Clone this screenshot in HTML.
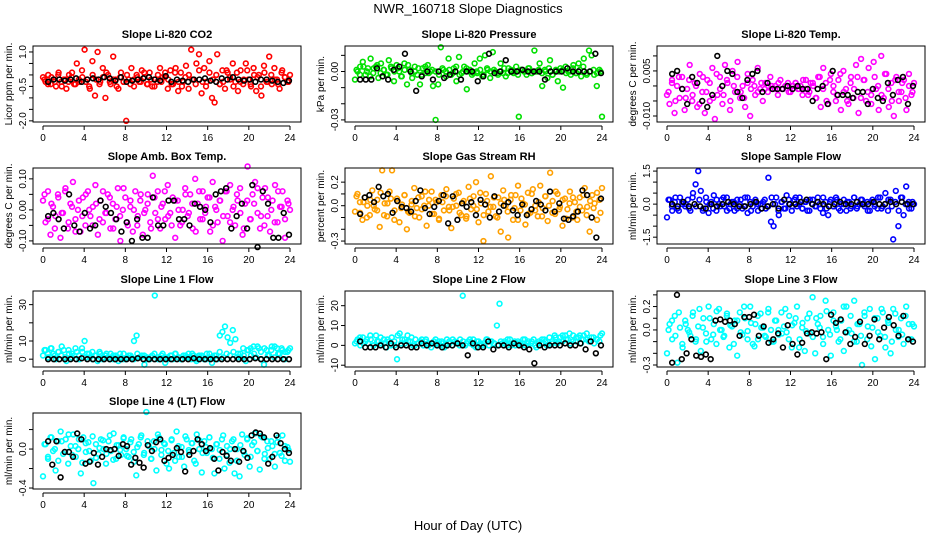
<!DOCTYPE html>
<html><head><meta charset="utf-8"><style>
html,body{margin:0;padding:0;background:#fff;}
svg{display:block;font-family:"Liberation Sans",sans-serif;}
</style></head><body>
<svg id="chart" width="936" height="540" viewBox="0 0 936 540" xmlns="http://www.w3.org/2000/svg">
<rect width="936" height="540" fill="#fff"/>
<text x="468" y="13" text-anchor="middle" font-size="13">NWR_160718  Slope Diagnostics</text>
<text x="468" y="530" text-anchor="middle" font-size="13">Hour of Day (UTC)</text>
<g id="panels"></g>
</svg>
<script>
const xTicks = [0,4,8,12,16,20,24];
const co2 = [-0.1,-0.3,0.0,-0.4,-0.2,-0.5,0.1,-0.3,-0.2,-0.6,0.0,-0.1,-0.4,0.5,-0.3,0.2,1.1,-0.2,-0.6,0.6,-0.9,1.0,-0.3,0.3,-1.0,0.0,-0.4,0.8,-0.2,-0.6,0.1,-0.3,-2.0,-0.2,0.3,-0.5,0.0,-0.3,0.2,-0.1,-0.4,0.1,-0.5,-0.2,-0.3,0.3,-0.1,0.1,-0.6,0.2,-0.4,0.3,-0.7,0.1,-0.3,0.4,-0.6,1.1,-0.2,0.5,0.9,-0.8,0.3,-0.3,0.6,-1.0,-1.2,0.9,-0.4,0.2,-0.6,0.1,-0.2,0.5,-0.3,-0.7,0.2,-0.4,0.5,-0.2,-0.5,0.3,-0.7,0.0,-0.9,0.4,-0.3,0.8,-0.4,0.3,-0.2,-0.6,0.2,-0.1,-0.3,0.0];
const co2Core = [-0.2,-0.4,-0.1,-0.3,0.0,-0.5,-0.2,-0.3,0.1,-0.4,-0.2,-0.1,-0.3,-0.5,0.0,-0.2,-0.4,-0.1,0.1,-0.3,-0.2,-0.5,-0.1,-0.3,0.0,-0.4,-0.2,-0.1,-0.3,0.1,-0.4,-0.2,-0.5,0.0,-0.3,-0.1,-0.2,-0.4,0.1,-0.3,-0.5,-0.1,0.0,-0.2,-0.4,0.2,-0.3,-0.5,0.1,-0.2,0.0,-0.4,-0.3,0.2,-0.1,-0.5,0.1,-0.3,-0.2,0.2,-0.4,0.0,-0.1,-0.5,0.1,-0.3,0.0,-0.2,-0.4,0.1,-0.1,-0.3];
const co2Mean = [-0.3,-0.2,-0.2,-0.25,-0.2,-0.15,-0.3,-0.2,-0.15,-0.2,-0.1,-0.15,-0.25,-0.1,-0.3,-0.25,-0.2,-0.15,-0.1,-0.2,-0.25,-0.05,-0.3,-0.2,-0.25,-0.3,-0.2,-0.2,-0.15,-0.25,-0.3,-0.15,-0.2,-0.1,-0.2,-0.25,-0.2,-0.3,-0.2,-0.2,-0.25,-0.3,-0.35,-0.25];
const pres = [-5,0,3,6,-2,2,8,-1,3,-4,5,1,-2,7,2,-6,4,0,-3,5,-8,1,-4,3,-2,-8,2,-1,4,0,-9,-30,-8,15,1,-3,8,-2,2,-6,9,-1,3,-11,0,-2,5,-1,8,-3,10,1,-4,12,0,-2,5,-1,-3,2,0,-1,3,-28,1,0,-2,2,-1,13,0,5,-9,1,-4,7,-2,0,-6,2,-10,3,0,-2,4,-1,5,-3,8,-1,13,10,-2,-9,1,-28];
const presCore = [1,-2,3,0,-3,2,4,-1,1,-2,3,0,2,-3,1,4,-1,0,2,-2,3,-1,1,0,-2,2,0,1,-1,3,-2,0,2,1,-1,0,1,-2,2,0,1,-1,0,2,-1,1,0,-2,1,0,2,-1,0,1,-1,0,2,-2,1,0,1,-1,0,2,-1,1,3,-2,0,1,-1,0];
const presMean = [-5,-5,-5,2,-3,-5,1,3,11,0,-12,-3,0,-5,0,-4,-2,0,-5,0,0,-6,-3,11,-1,0,7,0,0,1,0,0,0,-5,0,0,0,2,0,0,0,0,11,-1];
const temp = [-3,-6,2,-9,0,-4,3,-8,-1,7,-5,1,-7,4,-2,-9,2,-5,6,-11,-3,3,-6,7,1,-8,5,-2,8,-4,0,-7,4,-10,2,-3,6,-1,-5,1,-2,3,-1,0,-3,2,-1,0,1,-2,0,1,-1,0,2,-1,-3,1,0,-4,3,-7,6,1,-6,4,-2,-5,2,-8,5,-1,-6,3,-4,7,-9,9,2,-5,6,-3,8,-1,-8,10,-4,4,-7,1,-10,3,-5,-2,2,-8,4,-3,1];
const tempCore = [-2,1,-5,3,-1,-4,2,-3,0,-6,3,-2,1,-4,4,-1,-3,2,-5,0,3,-2,-4,1,-1,0,-2,1,-1,0,0,-1,1,-1,0,-2,0,1,-1,-3,2,-2,1,-4,3,-1,-5,2,0,-3,4,-2,-5,1,-1,3,-4,2,-2,-6,3,0,-3,4,-1,-5,2,-2,1,-4,0,-2];
const tempMean = [4,5,-1,-6,3,1,-5,-7,-3,10,0,5,4,-2,-4,2,4,5,-2,1,-1,-1,-1,0,-1,0,-1,-1,-5,-1,0,-6,5,-3,-3,-3,-4,-2,-2,-6,-1,-4,-5,1,-3,2,3,-6,0];
const amb = [3,-4,6,-8,1,-2,5,-9,-1,7,-6,2,9,-3,0,-7,4,-5,6,-2,1,8,-8,3,-4,-1,5,-6,2,-3,7,-10,0,4,-5,1,-7,6,-2,3,-8,0,5,-4,11,-1,6,-6,2,-3,8,-1,4,-9,3,-5,0,7,-2,5,-6,10,2,-3,6,-1,4,-7,9,1,-4,3,-10,6,-2,8,0,-5,3,7,-8,2,14,-3,5,9,-1,-6,4,7,-2,-7,3,8,-4,1,6,-9,3,0];
const ambCore = [5,-3,2,-6,4,-1,6,-4,1,-7,3,-2,5,0,-5,2,-3,6,-1,4,-6,1,-2,7,-4,3,0,-5,5,-1,2,-6,4,-3,1,6,-2,-5,3,0,-4,5,-1,2,-7,6,-3,1,4,-5,0,3,-2,6,-4,1,5,-1,-6,3,-3,2,7,-2,-5,4,0,-4,6,1,-3,2];
const ambMean = [-2,-1,-3,-6,5,-5,-7,-1,-6,-5,3,1,-1,-3,-7,-4,-10,-3,-9,-9,4,-5,-5,3,3,-3,-3,-5,2,1,0,-4,5,6,7,-6,-2,2,-6,8,-12,6,2,-9,-9,-1,-8];
const rh = [-5,10,3,-12,7,0,-8,13,-3,5,-18,30,2,-9,12,30,-4,6,-14,1,9,-20,-6,4,15,-2,-10,8,0,-17,5,12,-7,3,-12,9,-4,14,-1,-19,6,0,11,-8,4,-11,16,-3,8,20,-14,2,-30,10,-5,25,-1,-9,7,-22,13,0,-27,5,-12,9,17,-4,2,-16,11,-6,14,0,-9,17,-2,8,-13,28,4,-7,10,-1,-17,6,-3,12,-10,3,-12,7,-4,15,-1,-22,9,2,-12,5,15];
const rhCore = [8,-6,3,-10,5,0,-4,11,-8,2,6,-12,4,-2,9,-5,1,-9,7,-3,12,0,-7,5,-11,3,8,-4,-1,10,-6,2,-9,6,0,-3,11,-8,4,-1,7,-10,2,5,-5,9,-2,-12,6,1,-7,10,-4,3,-9,8,0,-6,12,-3,5,-11,2,7,-5,-1,9,-8,4,-2,11,-6];
const rhMean = [-7,7,9,3,16,8,10,-6,4,-1,-2,-5,4,13,-2,-7,-1,4,9,-15,8,-12,2,-1,3,-8,5,1,-10,8,-5,0,3,-4,-8,1,-8,-3,4,1,-4,12,-5,2,-11,-12,-9,-5,13,9,-10,-27,6];
const samp = [-0.6,0.2,-0.3,0.1,-0.2,0.3,0.0,-0.1,0.2,-0.3,0.5,0.9,1.5,0.6,-0.2,0.3,-0.4,0.1,0.4,-0.3,0.0,0.2,-0.1,0.3,-0.2,0.1,-0.3,0.2,0.0,-0.2,0.3,-0.4,0.1,-0.1,0.2,-0.3,0.0,0.1,-0.2,1.2,-0.8,-1.0,0.3,-0.5,0.1,-0.2,0.4,0.0,-0.3,0.2,-0.1,0.3,-0.2,0.1,-0.3,0.2,0.0,-0.1,0.3,-0.2,-0.4,0.1,-0.5,0.2,-0.1,0.3,-0.2,0.0,0.2,-0.3,0.1,-0.1,0.3,-0.2,0.0,0.2,-0.1,0.1,-0.3,0.2,0.0,-0.2,0.3,-0.1,0.5,-0.3,0.2,-1.6,0.6,-1.0,0.3,-0.5,0.8,0.1,-0.2,0.0];
const sampCore = [0.2,-0.1,0.3,-0.3,0.1,0.0,-0.2,0.3,-0.1,0.2,-0.3,0.1,0.0,-0.2,0.2,-0.1,0.3,-0.3,0.0,0.1,-0.2,0.2,-0.1,0.3,-0.3,0.1,0.0,-0.2,0.2,-0.1,0.3,0.0,-0.3,0.1,-0.2,0.2,-0.1,0.3,0.0,-0.2,0.1,-0.3,0.2,-0.1,0.0,0.3,-0.2,0.1,-0.1,0.2,-0.3,0.0,0.1,-0.2,0.3,-0.1,0.2,0.0,-0.3,0.1,-0.1,0.3,-0.2,0.0,0.2,-0.1,0.1,-0.3,0.3,0.0,-0.2,0.1];
const sampMean = [0.0,-0.1,0.1,-0.1,0.0,-0.1,-0.2,0.0,-0.1,0.0,0.1,0.0,-0.1,-0.1,0.0,0.1,-0.2,-0.1,0.0,-0.2,0.2,0.0,0.0,0.1,0.2,0.0,0.1,0.0,-0.1,0.0,0.1,0.0,0.0,0.1,0.0,0.0,0.1,0.0,0.0,0.1,0.0,0.1,0.0,0.0];
const line1 = [2,5,1,6,3,0,4,2,5,-1,3,1,2,4,0,6,10,3,1,4,2,-1,3,0,2,1,3,0,2,-1,1,3,0,2,1,10,13,1,2,-3,1,0,2,35,1,0,3,-2,1,2,0,3,1,0,2,1,3,0,2,-1,1,2,0,3,1,-2,2,0,13,15,18,12,9,16,11,3,1,6,-1,5,2,7,1,6,0,-3,5,2,7,1,6,3,5,0,4,6];
const line1Core = [5,3,6,2,4,7,1,5,3,6,2,4,1,3,0,2,4,1,3,0,2,1,3,0,1,2,0,3,1,2,0,1,3,0,2,1,0,2,3,1,0,2,1,3,0,2,1,0,3,1,2,4,1,3,2,4,1,3,2,5,6,3,7,4,6,2,5,7,3,6,4,5];
const line1Mean = [0,0,0,0,0,0,0.5,0,0,0,0,0,0,0,0,0,0.5,0,0,0,0,0,0,0,0,0,0.5,0,0,0,0,0,0,0,0,0,0,0.5,0,0,0,0,0,0];
const line2 = [1,3,0,4,2,1,3,0,5,2,1,3,-1,2,4,0,-7,6,3,1,5,2,0,3,1,2,0,3,1,-1,2,1,0,2,-1,3,1,0,2,1,3,25,0,2,1,3,-1,2,0,1,3,0,2,1,10,21,1,2,0,3,1,0,2,1,3,0,2,1,3,-1,2,1,3,0,4,2,5,1,4,2,5,3,1,5,2,4,1,5,3,2,4,1,3,2,6];
const line2Core = [2,4,1,3,5,0,2,4,1,3,0,2,5,1,3,2,4,0,1,3,2,0,1,3,2,1,0,2,3,1,0,2,1,3,0,2,1,0,3,2,1,0,2,1,3,0,2,1,0,3,1,2,0,1,3,2,0,1,4,2,5,3,6,2,4,5,3,6,2,4,3,5];
const line2Mean = [2,-1,-1,-1,0,-1,1,-1,0,0,-1,-1,1,0,1,0,-1,0,0,1,0,-5,1,-1,-1,2,-2,0,0,-1,1,0,-1,-2,-9,0,-1,0,0,0,1,0,0,1,-2,2,-4,0];
const line3 = [-20,5,-8,12,-28,2,-15,8,0,-5,15,-10,3,-18,10,-3,20,-8,5,-12,18,0,-5,12,-15,3,8,-22,15,-4,10,-1,20,-12,5,-8,14,2,-6,18,0,-10,8,-4,15,3,-2,12,-15,6,20,-8,2,-18,10,-3,28,-20,5,12,-6,25,0,-22,15,3,-10,8,-18,20,0,-3,25,-10,5,-30,12,-8,18,2,-25,10,-5,15,-15,8,-20,18,0,-6,10,-12,20,5,-8,3];
const line3Core = [0,8,-5,15,-12,5,-2,12,-8,18,2,-10,10,-4,16,0,-6,14,4,-12,8,-2,20,-8,6,-14,12,2,-5,15,-10,8,0,-3,18,-8,4,10,-15,6,-1,14,-6,10,2,-12,16,-4,8,0,-8,20,-2,12,-10,5,-5,15,3,-14,10,-2,18,-6,6,-10,14,0,-4,12,-8,5];
const line3Mean = [-28,30,-25,-20,-8,-22,-23,-21,-25,8,9,7,8,5,-5,11,11,13,-5,3,-11,-8,-3,-15,4,-12,-21,-11,-3,-2,-3,-2,-25,13,6,9,-2,-12,-6,7,-12,-5,9,-8,2,11,4,-5,12,-8,-10];
const line4 = [-28,5,-10,12,-2,-22,8,18,-5,10,-15,3,15,-8,0,-25,12,-3,7,-12,-35,5,-5,10,0,-15,8,-2,16,-10,4,-6,12,0,-8,10,-3,-27,5,14,-6,38,3,-10,8,-22,12,-1,6,-15,-20,9,-4,18,-8,2,-18,10,-3,6,-12,15,0,-24,8,-4,12,0,-25,5,-10,10,-20,3,-14,8,-25,0,-28,15,-6,10,-18,4,16,-2,-21,12,-5,8,-10,3,-18,7,-4,14,-12,2,-13];
const line4Core = [5,-8,12,0,-12,8,-3,15,-6,3,10,-14,6,-2,13,-9,1,9,-5,14,-11,4,-1,11,-7,7,-13,2,12,-4,8,-10,0,15,-6,5,-2,10,-12,3,-8,13,-1,6,-15,9,-4,2,12,-9,5,-1,14,-6,0,10,-12,4,-3,11,-8,7,-2,13,-10,1,8,-5,12,-7,3,-1];
const line4Mean = [8,-16,8,-29,-3,-3,-8,16,10,-15,-13,-4,-16,-8,0,-1,0,-7,5,3,-16,-9,-14,-19,4,-2,7,10,-12,-9,-6,1,-3,-23,-6,-2,10,5,-2,1,-10,-22,-3,-7,-12,0,-13,-2,-9,14,17,16,12,-15,-8,14,6,0,-4];

const panels = [
 {name:'co2',title:'Slope Li-820 CO2',ylab:'Licor ppm per min.',col:0,row:0,min:-2.05,max:1.26,ticks:[1,0.5,0,-0.5,-1,-1.5,-2],labels:{'1':'1.0','-0.5':'-0.5','-2':'-2.0'},color:'#ff0000',data:co2,core:co2Core,mean:co2Mean},
 {name:'pressure',title:'Slope Li-820 Pressure',ylab:'kPa per min.',col:1,row:0,min:-31.3,max:15.8,ticks:[10,0,-10,-20,-30],labels:{'0':'0.00','-30':'-0.03'},color:'#00e000',data:pres,core:presCore,mean:presMean},
 {name:'temp',title:'Slope Li-820 Temp.',ylab:'degrees C per min.',col:2,row:0,min:-12,max:13.3,ticks:[10,5,0,-5,-10],labels:{'5':'0.005','-10':'-0.010'},color:'#ff00ff',data:temp,core:tempCore,mean:tempMean},
 {name:'amb-box-temp',title:'Slope Amb. Box Temp.',ylab:'degrees C per min.',col:0,row:1,min:-11,max:13.5,ticks:[10,5,0,-5,-10],labels:{'10':'0.10','0':'0.00','-10':'-0.10'},color:'#ff00ff',data:amb,core:ambCore,mean:ambMean},
 {name:'gas-rh',title:'Slope Gas Stream RH',ylab:'percent per min.',col:1,row:1,min:-32.5,max:32,ticks:[20,10,0,-10,-20,-30],labels:{'20':'0.2','0':'0.0','-30':'-0.3'},color:'#ffa000',data:rh,core:rhCore,mean:rhMean},
 {name:'sample-flow',title:'Slope Sample Flow',ylab:'ml/min per min.',col:2,row:1,min:-1.81,max:1.64,ticks:[1.5,1,0.5,0,-0.5,-1,-1.5],labels:{'1.5':'1.5','0':'0.0','-1.5':'-1.5'},color:'#0000ff',data:samp,core:sampCore,mean:sampMean},
 {name:'line1-flow',title:'Slope Line 1 Flow',ylab:'ml/min per min.',col:0,row:2,min:-4.3,max:37.5,ticks:[30,20,10,0],labels:{'30':'30','10':'10','0':'0'},color:'#00ffff',data:line1,core:line1Core,mean:line1Mean},
 {name:'line2-flow',title:'Slope Line 2 Flow',ylab:'ml/min per min.',col:1,row:2,min:-10.9,max:27.4,ticks:[20,10,0,-10],labels:{'20':'20','10':'10','0':'0','-10':'-10'},color:'#00ffff',data:line2,core:line2Core,mean:line2Mean},
 {name:'line3-flow',title:'Slope Line 3 Flow',ylab:'ml/min per min.',col:2,row:2,min:-31.7,max:33.3,ticks:[30,20,10,0,-10,-20,-30],labels:{'20':'0.2','0':'0.0','-30':'-0.3'},color:'#00ffff',data:line3,core:line3Core,mean:line3Mean},
 {name:'line4-flow',title:'Slope Line 4 (LT) Flow',ylab:'ml/min per min.',col:0,row:3,min:-41,max:37,ticks:[20,0,-20,-40],labels:{'0':'0.0','-40':'-0.4'},color:'#00ffff',data:line4,core:line4Core,mean:line4Mean}
];
const rowTops=[46,168,291,413];
const NS='http://www.w3.org/2000/svg';
const root=document.getElementById('panels');
function mk(tag,attrs,parent){const e=document.createElementNS(NS,tag);for(const k in attrs)e.setAttribute(k,attrs[k]);parent.appendChild(e);return e;}
panels.forEach(p=>{
  const L=33+312*p.col, T=rowTops[p.row], W=268, H=76, B=T+H;
  const xs=h=>L+10+h*(247/24);
  const ys=v=>B-(v-p.min)/(p.max-p.min)*H;
  const g=mk('g',{},root);
  
  
  const t=mk('text',{x:L+W/2,y:T-8,'text-anchor':'middle','font-size':'11','font-weight':'bold'},g);
  t.textContent=p.title;
  
  
  const yl=mk('text',{x:0,y:0,'text-anchor':'middle','font-size':'10',transform:`translate(${L-21},${T+H/2}) rotate(-90)`},g);
  yl.textContent=p.ylab;
  
  
  const n=p.data.length;
  p.data.forEach((v,i)=>{
    const c=mk('circle',{cx:xs(i*24/(n-1)),cy:ys(v),r:2.4,fill:'none',stroke:p.color,'stroke-width':1.6},g);
    
    
  });
  const k=p.core.length;
  p.core.forEach((v,i)=>{
    const c=mk('circle',{cx:xs(0.15+i*23.7/(k-1)),cy:ys(v),r:2.4,fill:'none',stroke:p.color,'stroke-width':1.6},g);
    
    
  });
  const m=p.mean.length;
  p.mean.forEach((v,i)=>{
    const c=mk('circle',{cx:xs(0.5+i*23.4/(m-1)),cy:ys(v),r:2.4,fill:'none',stroke:'#000','stroke-width':1.6},g);
    
    
  });
  const box=mk('rect',{x:L,y:T,width:W,height:H,fill:'none',stroke:'#000','stroke-width':1},g);
  
  
  const yt=p.ticks;
  mk('line',{x1:L,x2:L,y1:ys(yt[0]),y2:ys(yt[yt.length-1]),stroke:'#000'},g);
  yt.forEach(v=>{
    mk('line',{x1:L-4,x2:L,y1:ys(v),y2:ys(v),stroke:'#000'},g);
    const lab=p.labels[String(v)];
    if(lab){
      const tx=mk('text',{x:0,y:0,'text-anchor':'middle','font-size':'10',transform:`translate(${L-7},${ys(v)}) rotate(-90)`},g);
      tx.textContent=lab;
      
      
    }
  });
  mk('line',{x1:xs(0),x2:xs(24),y1:B+4,y2:B+4,stroke:'#000'},g);
  xTicks.forEach(h=>{
    mk('line',{x1:xs(h),x2:xs(h),y1:B+4,y2:B+8,stroke:'#000'},g);
    const tx=mk('text',{x:xs(h),y:B+19,'text-anchor':'middle','font-size':'10'},g);
    tx.textContent=h;
    
    
  });
});
</script>
</body></html>
